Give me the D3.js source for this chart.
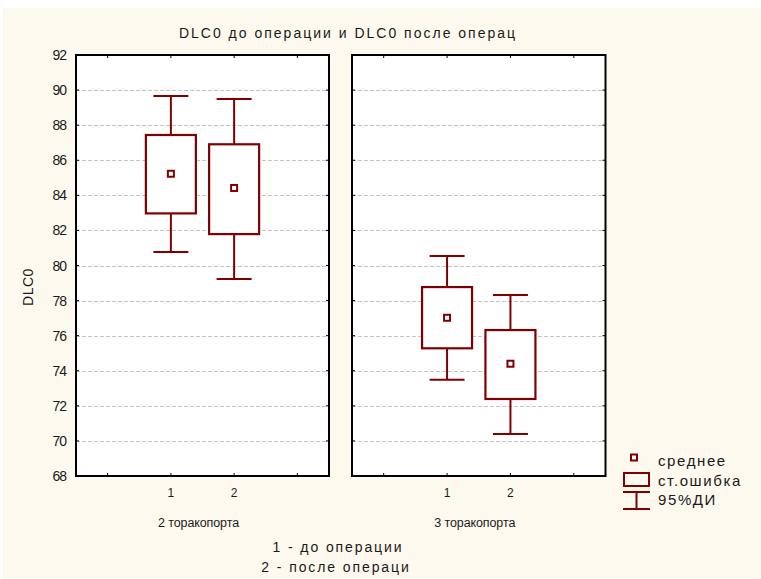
<!DOCTYPE html>
<html>
<head>
<meta charset="utf-8">
<script src="https://cdn.jsdelivr.net/npm/d3@7"></script>
<style>
  body { margin: 0; background: #fff; }
  text { font-family: "Liberation Sans", Arial, sans-serif; fill: #1a1a1a; }
</style>
</head>
<body>
<div id="chart"></div>
<script>
// values
var groups = ["2 торакопорта", "3 торакопорта"];
var conditions = [1, 2];
var means = [[85.23, 84.42], [77.02, 74.40]];
var seLow = [[82.97, 81.79], [75.28, 72.39]];
var seHigh = [[87.44, 86.91], [78.77, 76.32]];
var ciLow = [[80.77, 79.23], [73.49, 70.39]];
var ciHigh = [[89.66, 89.49], [80.54, 78.32]];
var yTicks = [68, 70, 72, 74, 76, 78, 80, 82, 84, 86, 88, 90, 92];
var xTicks = [0, 1, 2, 3];
var legendItems = ["среднее", "ст.ошибка", "95%ДИ"];

var width = 761, height = 579;
var red = "#800000";

var svg = d3.select("#chart").append("svg")
    .attr("width", width)
    .attr("height", height);

svg.append("rect")
    .attr("x", 3).attr("y", 8)
    .attr("width", width - 3).attr("height", height - 8)
    .attr("fill", "#fdf9ee");

var y = d3.scaleLinear().domain([68, 92]).range([476, 55]);

var panels = [[76, 329], [352, 605.5]];

svg.append("text")
    .attr("x", 348).attr("y", 38)
    .attr("text-anchor", "middle")
    .style("font-size", "14px")
    .style("letter-spacing", "2px")
    .text("DLC0 до операции и DLC0 после операц");

// y axis labels
svg.selectAll(".ylab")
    .data(yTicks)
    .enter()
    .append("text")
    .attr("class", "ylab")
    .attr("x", 66)
    .attr("y", function (d) { return y(d); })
    .attr("dy", "0.36em")
    .attr("text-anchor", "end")
    .style("font-size", "14px")
    .style("letter-spacing", "-1px")
    .text(function (d) { return d; });

svg.append("text")
    .attr("transform", "translate(33,287) rotate(-90)")
    .attr("text-anchor", "middle")
    .style("font-size", "14px")
    .style("letter-spacing", "0.5px")
    .text("DLC0");

panels.forEach(function (p, gi) {
    var x = d3.scaleLinear().domain([-0.5, 3.5]).range(p);
    var g = svg.append("g");

    g.append("rect")
        .attr("x", p[0]).attr("y", y(92))
        .attr("width", p[1] - p[0]).attr("height", y(68) - y(92))
        .attr("fill", "#fff");

    // dashed grid
    g.selectAll(".grid")
        .data(yTicks.slice(1, -1))
        .enter()
        .append("line")
        .attr("x1", p[0]).attr("x2", p[1])
        .attr("y1", function (d) { return Math.round(y(d)) + 0.5; })
        .attr("y2", function (d) { return Math.round(y(d)) + 0.5; })
        .attr("stroke", "#c4c4c4")
        .attr("stroke-dasharray", "4,2");

    // ticks on all four sides
    g.selectAll(".tl")
        .data(yTicks)
        .enter()
        .append("line")
        .attr("x1", p[0]).attr("x2", p[0] + 3)
        .attr("y1", function (d) { return y(d); })
        .attr("y2", function (d) { return y(d); })
        .attr("stroke", "#000");
    g.selectAll(".tr")
        .data(yTicks)
        .enter()
        .append("line")
        .attr("x1", p[1] - 3).attr("x2", p[1])
        .attr("y1", function (d) { return y(d); })
        .attr("y2", function (d) { return y(d); })
        .attr("stroke", "#000");
    g.selectAll(".tt")
        .data(xTicks)
        .enter()
        .append("line")
        .attr("x1", function (d) { return x(d); })
        .attr("x2", function (d) { return x(d); })
        .attr("y1", y(92)).attr("y2", y(92) + 3)
        .attr("stroke", "#000");
    g.selectAll(".tb")
        .data(xTicks)
        .enter()
        .append("line")
        .attr("x1", function (d) { return x(d); })
        .attr("x2", function (d) { return x(d); })
        .attr("y1", y(68) - 3).attr("y2", y(68))
        .attr("stroke", "#000");

    g.append("rect")
        .attr("x", p[0]).attr("y", y(92))
        .attr("width", p[1] - p[0]).attr("height", y(68) - y(92))
        .attr("fill", "none")
        .attr("stroke", "#000")
        .attr("stroke-width", 2);

    conditions.forEach(function (c, ci) {
        var cx = x(c);
        // whiskers
        g.append("line")
            .attr("x1", cx).attr("x2", cx)
            .attr("y1", y(ciHigh[gi][ci])).attr("y2", y(seHigh[gi][ci]))
            .attr("stroke", red).attr("stroke-width", 2);
        g.append("line")
            .attr("x1", cx).attr("x2", cx)
            .attr("y1", y(seLow[gi][ci])).attr("y2", y(ciLow[gi][ci]))
            .attr("stroke", red).attr("stroke-width", 2);
        [ciHigh[gi][ci], ciLow[gi][ci]].forEach(function (v) {
            g.append("line")
                .attr("x1", cx - 17.5).attr("x2", cx + 17.5)
                .attr("y1", y(v)).attr("y2", y(v))
                .attr("stroke", red).attr("stroke-width", 2);
        });
        // se box
        g.append("rect")
            .attr("x", cx - 25).attr("y", y(seHigh[gi][ci]))
            .attr("width", 50)
            .attr("height", y(seLow[gi][ci]) - y(seHigh[gi][ci]))
            .attr("fill", "#fff")
            .attr("stroke", red).attr("stroke-width", 2.2);
        // mean
        g.append("rect")
            .attr("x", cx - 3).attr("y", y(means[gi][ci]) - 3)
            .attr("width", 6).attr("height", 6)
            .attr("fill", "#fff")
            .attr("stroke", red).attr("stroke-width", 2);
    });

    g.selectAll(".xlab")
        .data(conditions)
        .enter()
        .append("text")
        .attr("x", function (d) { return x(d); })
        .attr("y", 497)
        .attr("text-anchor", "middle")
        .style("font-size", "12px")
        .text(function (d) { return d; });

    g.append("text")
        .attr("x", (p[0] + p[1]) / 2 - 4)
        .attr("y", 527)
        .attr("text-anchor", "middle")
        .style("font-size", "12.5px")
        .style("letter-spacing", "-0.1px")
        .text(groups[gi]);
});

svg.append("text")
    .attr("x", 338).attr("y", 552)
    .attr("text-anchor", "middle")
    .style("font-size", "14px")
    .style("letter-spacing", "1.9px")
    .text("1 - до операции");
svg.append("text")
    .attr("x", 336).attr("y", 572)
    .attr("text-anchor", "middle")
    .style("font-size", "14px")
    .style("letter-spacing", "1.9px")
    .text("2 - после операци");

// legend
var leg = svg.append("g");
leg.append("rect")
    .attr("x", 631).attr("y", 454.5)
    .attr("width", 6).attr("height", 6)
    .attr("fill", "#fff")
    .attr("stroke", red).attr("stroke-width", 2);
leg.append("rect")
    .attr("x", 624).attr("y", 473)
    .attr("width", 25).attr("height", 13)
    .attr("fill", "none")
    .attr("stroke", red).attr("stroke-width", 2);
leg.append("line")
    .attr("x1", 623).attr("x2", 650).attr("y1", 492).attr("y2", 492)
    .attr("stroke", red).attr("stroke-width", 2);
leg.append("line")
    .attr("x1", 623).attr("x2", 650).attr("y1", 509).attr("y2", 509)
    .attr("stroke", red).attr("stroke-width", 2);
leg.append("line")
    .attr("x1", 636.5).attr("x2", 636.5).attr("y1", 492).attr("y2", 509)
    .attr("stroke", red).attr("stroke-width", 2);
leg.selectAll(".lt")
    .data(legendItems)
    .enter()
    .append("text")
    .attr("x", 658)
    .attr("y", function (d, i) { return 466 + i * 19.5; })
    .style("font-size", "15px")
    .style("letter-spacing", "1.6px")
    .text(function (d) { return d; });
</script>
</body>
</html>
